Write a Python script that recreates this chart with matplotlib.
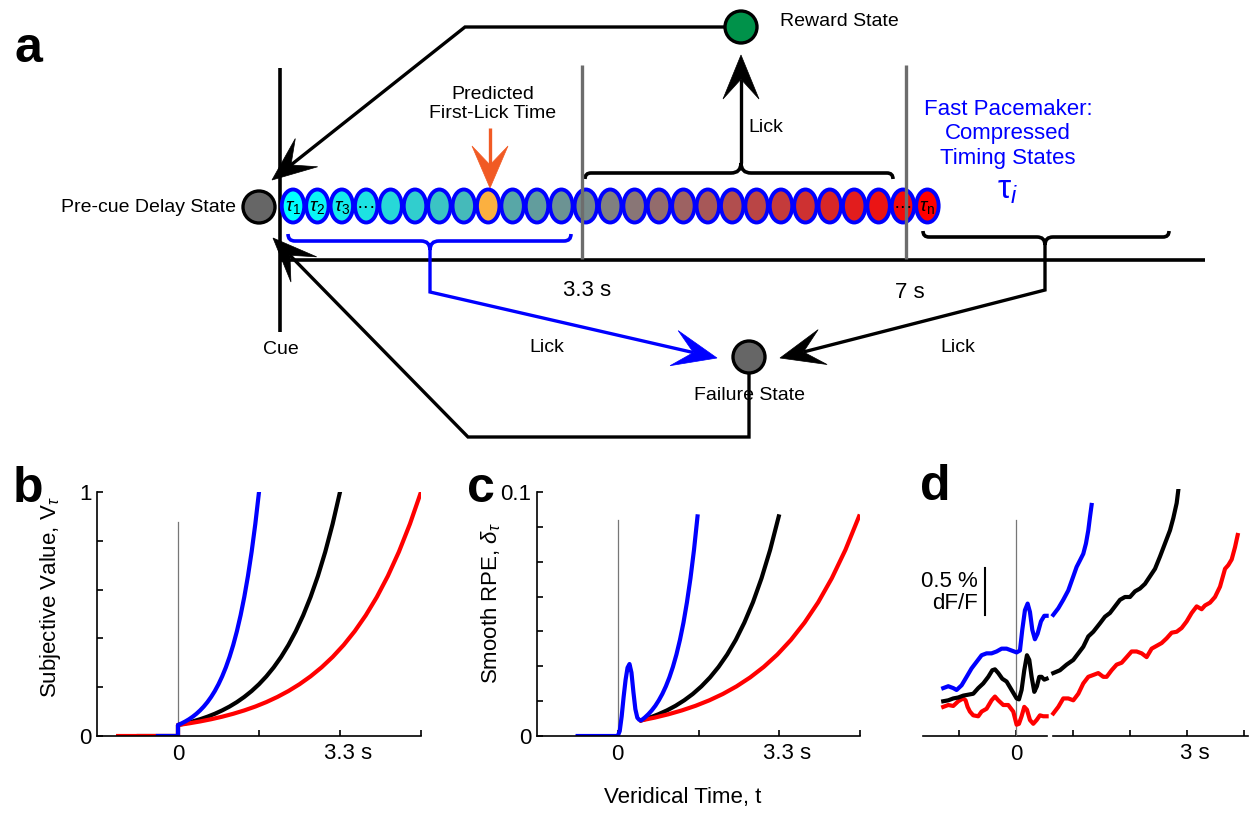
import numpy as np
import matplotlib
matplotlib.use('Agg')
import matplotlib.pyplot as plt
from matplotlib.patches import Circle, Ellipse, Polygon, PathPatch
from matplotlib.path import Path
from matplotlib.transforms import ScaledTranslation

plt.rcParams['font.family'] = ['Liberation Sans', 'DejaVu Sans']
plt.rcParams['mathtext.fontset'] = 'custom'
plt.rcParams['mathtext.rm'] = 'Liberation Sans'
plt.rcParams['mathtext.it'] = 'Liberation Sans:italic'

# ---- data --------------------------------------------------------------
# panel b: subjective value (shared shape, three time bases)
b_value = [0.045, 0.0518, 0.0597, 0.0687, 0.0791, 0.0911, 0.1049, 0.1207, 0.1390,
           0.1601, 0.1843, 0.2122, 0.2444, 0.2814, 0.3240, 0.3730, 0.4295, 0.4946,
           0.5695, 0.6557, 0.7550, 0.8693, 1.0]
b_t_blue = [0, 0.075, 0.15, 0.225, 0.3, 0.375, 0.45, 0.525, 0.6, 0.675, 0.75, 0.825,
            0.9, 0.975, 1.05, 1.125, 1.2, 1.275, 1.35, 1.425, 1.5, 1.575, 1.65]
b_t_black = [0, 0.15, 0.3, 0.45, 0.6, 0.75, 0.9, 1.05, 1.2, 1.35, 1.5, 1.65, 1.8,
             1.95, 2.1, 2.25, 2.4, 2.55, 2.7, 2.85, 3.0, 3.15, 3.3]
b_t_red = [0, 0.225, 0.45, 0.675, 0.9, 1.125, 1.35, 1.575, 1.8, 2.025, 2.25, 2.475,
           2.7, 2.925, 3.15, 3.375, 3.6, 3.825, 4.05, 4.275, 4.5, 4.725, 4.95]
b_pre_start = {'red': -1.22, 'black': -0.8, 'blue': -0.41}

# panel c: smooth RPE
c_bump_t = [-0.82, 0, 0.04, 0.08, 0.12, 0.16, 0.2, 0.24, 0.28, 0.32, 0.36, 0.40, 0.44]
c_bump_v = [0, 0, 0.002, 0.008, 0.016, 0.023, 0.028, 0.0295, 0.026, 0.018, 0.011, 0.0075, 0.0066]
c_rise = [0.0064, 0.00755, 0.00891, 0.01051, 0.01239, 0.01462, 0.01724, 0.02034, 0.02400,
          0.02831, 0.03339, 0.03939, 0.04647, 0.05481, 0.06466, 0.07628, 0.0900]
c_t_blue = [0.48, 0.552, 0.624, 0.696, 0.768, 0.839, 0.911, 0.983, 1.055, 1.127, 1.199,
            1.271, 1.343, 1.414, 1.486, 1.558, 1.63]
c_t_black = [0.48, 0.656, 0.831, 1.007, 1.182, 1.358, 1.534, 1.709, 1.885, 2.060, 2.236,
             2.412, 2.587, 2.763, 2.938, 3.114, 3.29]
c_t_red = [0.48, 0.758, 1.036, 1.314, 1.592, 1.871, 2.149, 2.427, 2.705, 2.983, 3.261,
           3.539, 3.817, 4.096, 4.374, 4.652, 4.93]

# panel d: photometry traces (% dF/F above axis), cue-aligned part and later part
d_blue_t1 = [-1.275, -1.187, -1.099, -1.041, -0.953, -0.865, -0.778, -0.690, -0.602, -0.515,
             -0.427, -0.339, -0.251, -0.164, -0.076, 0.012, 0.070, 0.111, 0.158, 0.205,
             0.246, 0.287, 0.333, 0.380, 0.439, 0.497, 0.538]
d_blue_v1 = [0.51, 0.53, 0.51, 0.49, 0.54, 0.63, 0.72, 0.79, 0.86, 0.88, 0.88, 0.90, 0.93,
             0.93, 0.91, 0.89, 0.91, 1.13, 1.34, 1.41, 1.32, 1.13, 1.03, 1.09, 1.22, 1.28, 1.28]
d_black_t1 = [-1.275, -1.187, -1.099, -1.012, -0.924, -0.836, -0.749, -0.661, -0.573, -0.485,
              -0.415, -0.368, -0.310, -0.240, -0.164, -0.076, 0.012, 0.053, 0.099, 0.146,
              0.193, 0.234, 0.275, 0.322, 0.368, 0.409, 0.450, 0.497, 0.538]
d_black_v1 = [0.37, 0.38, 0.40, 0.41, 0.43, 0.44, 0.45, 0.51, 0.56, 0.63, 0.70, 0.71, 0.67,
              0.61, 0.58, 0.49, 0.40, 0.39, 0.49, 0.70, 0.86, 0.81, 0.63, 0.47, 0.53, 0.63,
              0.63, 0.60, 0.61]
d_red_t1 = [-1.275, -1.187, -1.099, -1.012, -0.924, -0.883, -0.848, -0.807, -0.749, -0.661,
            -0.602, -0.515, -0.427, -0.368, -0.310, -0.222, -0.135, -0.047, 0.012, 0.053,
            0.099, 0.146, 0.193, 0.246, 0.304, 0.363, 0.421, 0.480, 0.538]
d_red_v1 = [0.31, 0.33, 0.32, 0.37, 0.40, 0.38, 0.31, 0.26, 0.22, 0.21, 0.26, 0.29, 0.38,
            0.42, 0.38, 0.33, 0.33, 0.26, 0.12, 0.13, 0.21, 0.31, 0.28, 0.17, 0.13, 0.17,
            0.22, 0.21, 0.21]
d_blue_t2 = [0.655, 0.743, 0.830, 0.918, 1.006, 1.064, 1.123, 1.181, 1.228, 1.269, 1.298, 1.327]
d_blue_v2 = [1.29, 1.36, 1.45, 1.55, 1.70, 1.80, 1.87, 1.94, 2.05, 2.19, 2.33, 2.46]
d_black_t2 = [0.655, 0.772, 0.889, 1.006, 1.094, 1.181, 1.269, 1.357, 1.474, 1.561, 1.649,
              1.737, 1.825, 1.912, 2.0, 2.088, 2.175, 2.263, 2.351, 2.439, 2.526, 2.614,
              2.702, 2.760, 2.819, 2.848]
d_black_v2 = [0.67, 0.70, 0.76, 0.81, 0.88, 0.95, 1.06, 1.11, 1.20, 1.27, 1.31, 1.38, 1.45,
              1.48, 1.48, 1.54, 1.57, 1.62, 1.70, 1.78, 1.91, 2.05, 2.19, 2.32, 2.48, 2.62]
d_red_t2 = [0.655, 0.743, 0.830, 0.918, 1.006, 1.094, 1.181, 1.269, 1.357, 1.444, 1.532,
            1.591, 1.678, 1.766, 1.854, 1.942, 2.029, 2.117, 2.205, 2.292, 2.380, 2.468,
            2.556, 2.643, 2.731, 2.819, 2.906, 2.994, 3.082, 3.170, 3.257, 3.316, 3.404,
            3.491, 3.579, 3.667, 3.725, 3.784, 3.842, 3.889]
d_red_v2 = [0.24, 0.31, 0.40, 0.40, 0.38, 0.45, 0.56, 0.63, 0.65, 0.67, 0.63, 0.63, 0.70,
            0.76, 0.78, 0.84, 0.90, 0.90, 0.88, 0.84, 0.93, 0.96, 0.99, 1.04, 1.10, 1.11,
            1.15, 1.22, 1.31, 1.38, 1.35, 1.39, 1.42, 1.48, 1.59, 1.78, 1.82, 1.88, 2.01, 2.14]

# panel a: timing states
n_states = 27
state_labels = {0: r'$\tau_1$', 1: r'$\tau_2$', 2: r'$\tau_3$', 3: '···', 25: '···',
                26: r'$\tau_\mathrm{n}$'}
predicted_state = 8

BLUE, RED, ORANGE = '#0000FF', '#FF0000', '#F15A24'

# ---- figure -------------------------------------------------------------
W, H = 1250, 814
fig = plt.figure(figsize=(W / 100, H / 100), dpi=100)

# overlay in pixel units for the schematic
ov = fig.add_axes([0, 0, 1, 1])
ov.set_xlim(0, W)
ov.set_ylim(H, 0)
ov.axis('off')


def line(pts, color='black', lw=2.6, z=2):
    ov.plot([p[0] for p in pts], [p[1] for p in pts], color=color, lw=lw,
            solid_joinstyle='miter', solid_capstyle='butt', zorder=z)


def arrow(pts, color='black', lw=2.4, L=44, hw=36):
    tip = np.array(pts[-1], float)
    prev = np.array(pts[-2], float)
    d = (tip - prev) / np.linalg.norm(tip - prev)
    n = np.array([-d[1], d[0]])
    base = tip - L * d
    notch = tip - 0.55 * L * d
    line(list(pts[:-1]) + [tuple(notch)], color, lw)
    ov.add_patch(Polygon([tip, base + hw / 2 * n, notch, base - hw / 2 * n],
                         closed=True, fc=color, ec=color, lw=0.5, zorder=2))


def brace(x0, x1, xm, y, d, r_end, r_mid, color='black', lw=2.6):
    verts = [(x0, y + d * r_end), (x0, y), (x0 + r_end, y),
             (xm - r_mid, y), (xm, y), (xm, y - d * r_mid),
             (xm, y), (xm + r_mid, y),
             (x1 - r_end, y), (x1, y), (x1, y + d * r_end)]
    codes = [Path.MOVETO, Path.CURVE3, Path.CURVE3, Path.LINETO, Path.CURVE3, Path.CURVE3,
             Path.CURVE3, Path.CURVE3, Path.LINETO, Path.CURVE3, Path.CURVE3]
    ov.add_patch(PathPatch(Path(verts, codes), fill=False, ec=color, lw=lw, zorder=2))


def state(x, y, fc):
    ov.add_patch(Circle((x, y), 16, fc=fc, ec='black', lw=2.4, zorder=4))


ov.text(14, 62, 'a', fontsize=36, fontweight='bold', ha='left', va='baseline')

# cue line and time axis
line([(280, 68), (280, 332)])
line([(280, 260), (1205, 260)])
ov.text(281, 350, 'Cue', fontsize=14, ha='center', va='center')

# timing states
for i in range(n_states):
    f = i / (n_states - 1)
    fc = '#FBB040' if i == predicted_state else (f, 1 - f, 1 - f)
    ov.add_patch(Ellipse((293 + 24.4 * i, 206), 22.5, 33, fc=fc, ec=BLUE, lw=2.8, zorder=3))
    if i in state_labels:
        ov.text(293 + 24.4 * i, 208, state_labels[i], fontsize=14, ha='center',
                va='center', zorder=5)

# 3.3 s and 7 s markers
line([(582, 65), (582, 259)], color='#6D6D6D', lw=2.4, z=4)
line([(906, 65), (906, 259)], color='#6D6D6D', lw=2.4, z=4)
ov.text(587, 290, '3.3 s', fontsize=16, ha='center', va='center')
ov.text(910, 293, '7 s', fontsize=16, ha='center', va='center')

# states
state(259, 207, '#666666')
ov.text(236, 207, 'Pre-cue Delay State', fontsize=14, ha='right', va='center')
state(741, 27, '#00924A')
ov.text(780, 22, 'Reward State', fontsize=14, ha='left', va='center')
state(749, 357, '#666666')
ov.text(749, 395, 'Failure State', fontsize=14, ha='center', va='center')

# reward -> pre-cue
arrow([(724, 27), (465, 27), (272, 180)])
# failure -> pre-cue
arrow([(749, 374), (749, 437), (468, 437), (273, 238)])

# rewarded lick window
brace(585, 893, 741, 173, 1, 6, 10)
arrow([(741, 163), (741, 55)])
ov.text(748, 128, 'Lick', fontsize=14, ha='left', va='center')

# early lick window
brace(288, 571, 430, 241, -1, 7, 9, color=BLUE)
arrow([(430, 248), (430, 292), (717, 358)], color=BLUE)
ov.text(547, 347, 'Lick', fontsize=14, ha='center', va='center')

# late lick window
brace(923, 1169, 1045, 237, -1, 6, 8)
arrow([(1045, 244), (1045, 290), (780, 358)])
ov.text(958, 347, 'Lick', fontsize=14, ha='center', va='center')

# predicted first-lick time
ov.text(493, 104, 'Predicted\nFirst-Lick Time', fontsize=14, ha='center', va='center',
        linespacing=1.2)
arrow([(490, 128), (490, 188)], color=ORANGE, L=42, hw=36)

ov.text(1008, 134, 'Fast Pacemaker:\nCompressed\nTiming States', fontsize=16,
        color=BLUE, ha='center', va='center', linespacing=1.2)
ov.text(1008, 190, r'$\mathrm{\tau}_i$', fontsize=24, color=BLUE, ha='center', va='center')

# panel letters and shared x label
ov.text(13, 502, 'b', fontsize=36, fontweight='bold', ha='left', va='baseline')
ov.text(467, 502, 'c', fontsize=36, fontweight='bold', ha='left', va='baseline')
ov.text(920, 500, 'd', fontsize=36, fontweight='bold', ha='left', va='baseline')
ov.text(683, 798, 'Veridical Time, t', fontsize=16, ha='center', va='center')


def px_axes(left, top, right, bottom):
    ax = fig.add_axes([left / W, 1 - bottom / H, (right - left) / W, (bottom - top) / H])
    ax.patch.set_alpha(0)
    return ax


def style(ax):
    for s in ('top', 'right'):
        ax.spines[s].set_visible(False)
    for s in ('left', 'bottom'):
        ax.spines[s].set_linewidth(1.2)
    ax.tick_params(direction='in', length=4, width=1.2, labelsize=16)
    ax.tick_params(axis='x', pad=6)
    ax.tick_params(axis='y', pad=4)


def unit_label(ax, x, text):
    ax.text(x, 0, text, fontsize=16, ha='center', va='top',
            transform=ax.get_xaxis_transform()
            + ScaledTranslation(0.08, -0.07, fig.dpi_scale_trans))


# ---- panel b ----
axb = px_axes(97, 492, 421, 736)
style(axb)
axb.set_xlim(-1.65, 4.95)
axb.set_ylim(0, 1)
axb.plot([0, 0], [0, 0.877], color='#777777', lw=0.9)
for key, tt, col in (('black', b_t_black, 'black'), ('red', b_t_red, RED),
                     ('blue', b_t_blue, BLUE)):
    axb.plot([b_pre_start[key], 0] + tt, [0, 0] + b_value, color=col, lw=3,
             solid_joinstyle='round')
axb.set_xticks([0, 1.65, 3.3, 4.95], ['0', '', '', ''])
axb.set_yticks([0, 0.2, 0.4, 0.6, 0.8, 1.0], ['0', '', '', '', '', '1'])
unit_label(axb, 3.3, '3.3 s')
axb.set_ylabel(r'Subjective Value, V$_\tau$', fontsize=16)
axb.yaxis.set_label_coords(-0.105, 0.57)

# ---- panel c ----
axc = px_axes(537, 492, 860, 736)
style(axc)
axc.set_xlim(-1.65, 4.95)
axc.set_ylim(0, 0.1)
axc.plot([0, 0], [0, 0.0885], color='#777777', lw=0.9)
axc.plot(c_t_black, c_rise, color='black', lw=3)
axc.plot(c_t_red, c_rise, color=RED, lw=3)
axc.plot(c_bump_t + c_t_blue, c_bump_v + c_rise, color=BLUE, lw=3, solid_joinstyle='round')
axc.set_xticks([0, 1.65, 3.3, 4.95], ['0', '', '', ''])
axc.set_yticks([0, 0.1 / 7, 0.2 / 7, 0.3 / 7, 0.4 / 7, 0.5 / 7, 0.6 / 7, 0.1],
               ['0', '', '', '', '', '', '', '0.1'])
unit_label(axc, 3.3, '3.3 s')
axc.set_ylabel(r'Smooth RPE, $\delta_\tau$', fontsize=16)
axc.yaxis.set_label_coords(-0.105, 0.545)

# ---- panel d ----
axd = px_axes(923, 489, 1248, 736)
for s in axd.spines.values():
    s.set_visible(False)
axd.set_xlim(-1.63, 4.07)
axd.set_ylim(0, 2.63)
axd.tick_params(left=False, labelleft=False, direction='in', length=4, width=1.2,
                labelsize=16, pad=6)
axd.set_xticks([-1, 0, 1, 2, 3, 4], ['', '0', '', '', '', ''])
axd.plot([-1.63, 0.54], [0, 0], color='black', lw=1.2, clip_on=False)
axd.plot([0.645, 4.07], [0, 0], color='black', lw=1.2, clip_on=False)
axd.plot([0, 0], [0, 2.30], color='#777777', lw=0.9)
for t1, v1, t2, v2, col in ((d_red_t1, d_red_v1, d_red_t2, d_red_v2, RED),
                            (d_black_t1, d_black_v1, d_black_t2, d_black_v2, 'black'),
                            (d_blue_t1, d_blue_v1, d_blue_t2, d_blue_v2, BLUE)):
    axd.plot(t1, v1, color=col, lw=3, solid_joinstyle='round')
    axd.plot(t2, v2, color=col, lw=3, solid_joinstyle='round')
unit_label(axd, 3, '3 s')
# scale bar 0.5 % dF/F
axd.plot([-0.544, -0.544], [1.287, 1.787], color='black', lw=1.5, clip_on=False)
axd.text(-0.667, 1.53, '0.5 %\ndF/F', fontsize=16, ha='right', va='center',
         linespacing=1.1)

fig.savefig('out.png', dpi=100)
